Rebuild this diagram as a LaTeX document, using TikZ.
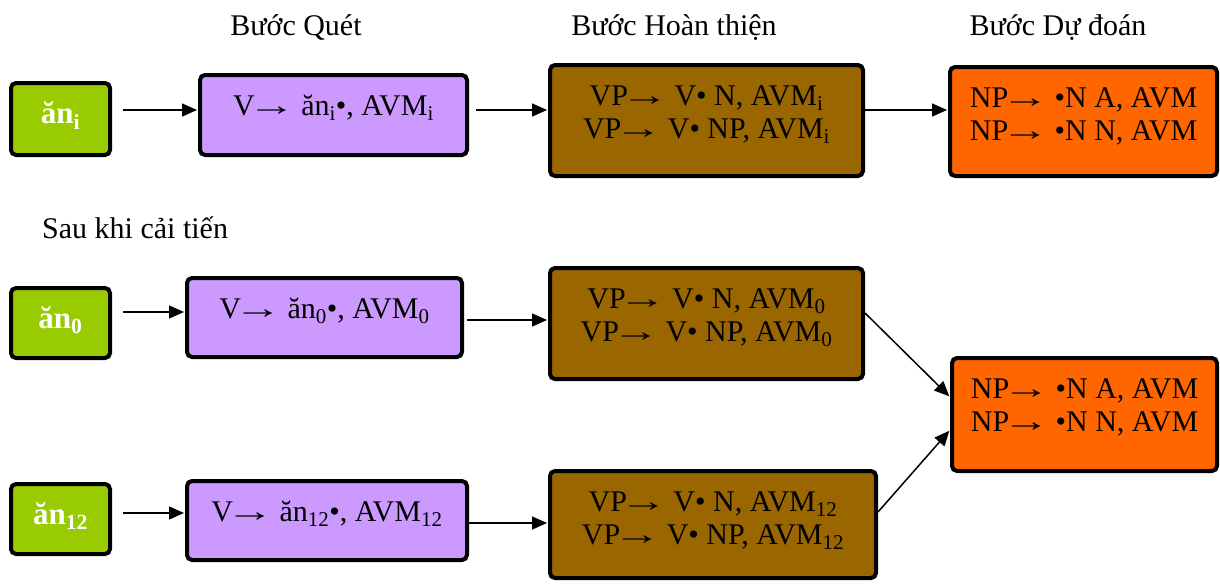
\documentclass[tikz,border=0pt]{standalone}
\usepackage{fontspec}
\setmainfont{Liberation Serif}
\usetikzlibrary{arrows.meta}
\definecolor{tokgreen}{HTML}{99CC00}
\definecolor{scanviolet}{HTML}{CC99FF}
\definecolor{compbrown}{HTML}{996600}
\definecolor{predorange}{HTML}{FF6600}
\newcommand{\ra}{\kern-.24em\scalebox{1.6}[1]{→}\kern-.06em}
\begin{document}
\begin{tikzpicture}[x=1pt,y=-1pt,
  stage node/.style={draw=black,line width=4pt,rounded corners=5pt,inner sep=0pt,align=center,
    font=\fontsize{30}{33}\selectfont,text height=40pt},
  two line/.style={text height=73pt},
  token node/.style={stage node,fill=tokgreen,text=white,font=\fontsize{31}{33}\selectfont\bfseries},
  scan node/.style={stage node,fill=scanviolet},
  comp node/.style={stage node,two line,fill=compbrown},
  pred node/.style={stage node,two line,fill=predorange},
  head node/.style={font=\fontsize{30}{33}\selectfont,inner sep=0pt,anchor=base},
  flow/.style={-{Triangle[length=15pt,width=13pt]},line width=1.5pt,shorten >=1pt}]

  \useasboundingbox (0,0) rectangle (1220,584);

  % headings
  \node[head node] (hq) at (296,35) {Bước Quét};
  \node[head node] (hh) at (674,35) {Bước Hoàn thiện};
  \node[head node] (hd) at (1058,35) {Bước Dự đoán};
  \node[head node,anchor=base west] (hs) at (42,238) {Sau khi cải tiến};

  % before
  \node[token node,minimum width=99pt,text depth=32pt] (g1) at (60.5,119) {ăn\textsubscript{i}};
  \node[scan node,minimum width=267pt,text depth=40pt] (p1) at (333.5,115) {V\ra{} ăn\textsubscript{i}•, AVM\textsubscript{i}};
  \node[comp node,minimum width=313pt,text depth=38pt] (b1) at (706.5,120.5)
    {VP\ra{} V• N, AVM\textsubscript{i}\\VP\ra{} V• NP, AVM\textsubscript{i}};
  \node[pred node,minimum width=267pt,text depth=36pt] (o1) at (1083.5,121.5)
    {NP\ra{} •N A, AVM\\NP\ra{} •N N, AVM};

  % after
  \node[token node,minimum width=99pt,text depth=30pt] (g2) at (60.5,323) {ăn\textsubscript{0}};
  \node[scan node,minimum width=275pt,text depth=39pt] (p2) at (324.5,317.5) {V\ra{} ăn\textsubscript{0}•, AVM\textsubscript{0}};
  \node[comp node,minimum width=313pt,text depth=38pt] (b2) at (706.5,323.5)
    {VP\ra{} V• N, AVM\textsubscript{0}\\VP\ra{} V• NP, AVM\textsubscript{0}};
  \node[token node,minimum width=99pt,text depth=30pt] (g3) at (60.5,519) {ăn\textsubscript{12}};
  \node[scan node,minimum width=280pt,text depth=39pt] (p3) at (327,520.5) {V\ra{} ăn\textsubscript{12}•, AVM\textsubscript{12}};
  \node[comp node,minimum width=326pt,text depth=34pt] (b3) at (713,524.5)
    {VP\ra{} V• N, AVM\textsubscript{12}\\VP\ra{} V• NP, AVM\textsubscript{12}};
  \node[pred node,minimum width=265pt,text depth=40pt] (o2) at (1084.5,414.5)
    {NP\ra{} •N A, AVM\\NP\ra{} •N N, AVM};

  \draw[flow,shorten <=11pt] ([yshift=9pt]g1.east) -- ([yshift=9pt]g1.east -| p1.west);
  \draw[flow,shorten <=7pt] ([yshift=5pt]p1.east) -- ([yshift=5pt]p1.east -| b1.west);
  \draw[flow] ([yshift=10.5pt]b1.east) -- ([yshift=10.5pt]b1.east -| o1.west);
  \draw[flow,shorten <=11pt] ([yshift=11pt]g2.east) -- ([yshift=11pt]g2.east -| p2.west);
  \draw[flow,shorten <=3pt] ([yshift=-2.5pt]p2.east) -- ([yshift=-2.5pt]p2.east -| b2.west);
  \draw[flow,shorten <=11pt] ([yshift=6pt]g3.east) -- ([yshift=6pt]g3.east -| p3.west);
  \draw[flow] ([yshift=-2.5pt]p3.east) -- ([yshift=-2.5pt]p3.east -| b3.west);
  \draw[flow] ([yshift=10.5pt]b2.east) -- ([yshift=17.5pt]o2.west);
  \draw[flow] ([yshift=12.5pt]b3.east) -- ([yshift=-15.5pt]o2.west);
\end{tikzpicture}
\end{document}
